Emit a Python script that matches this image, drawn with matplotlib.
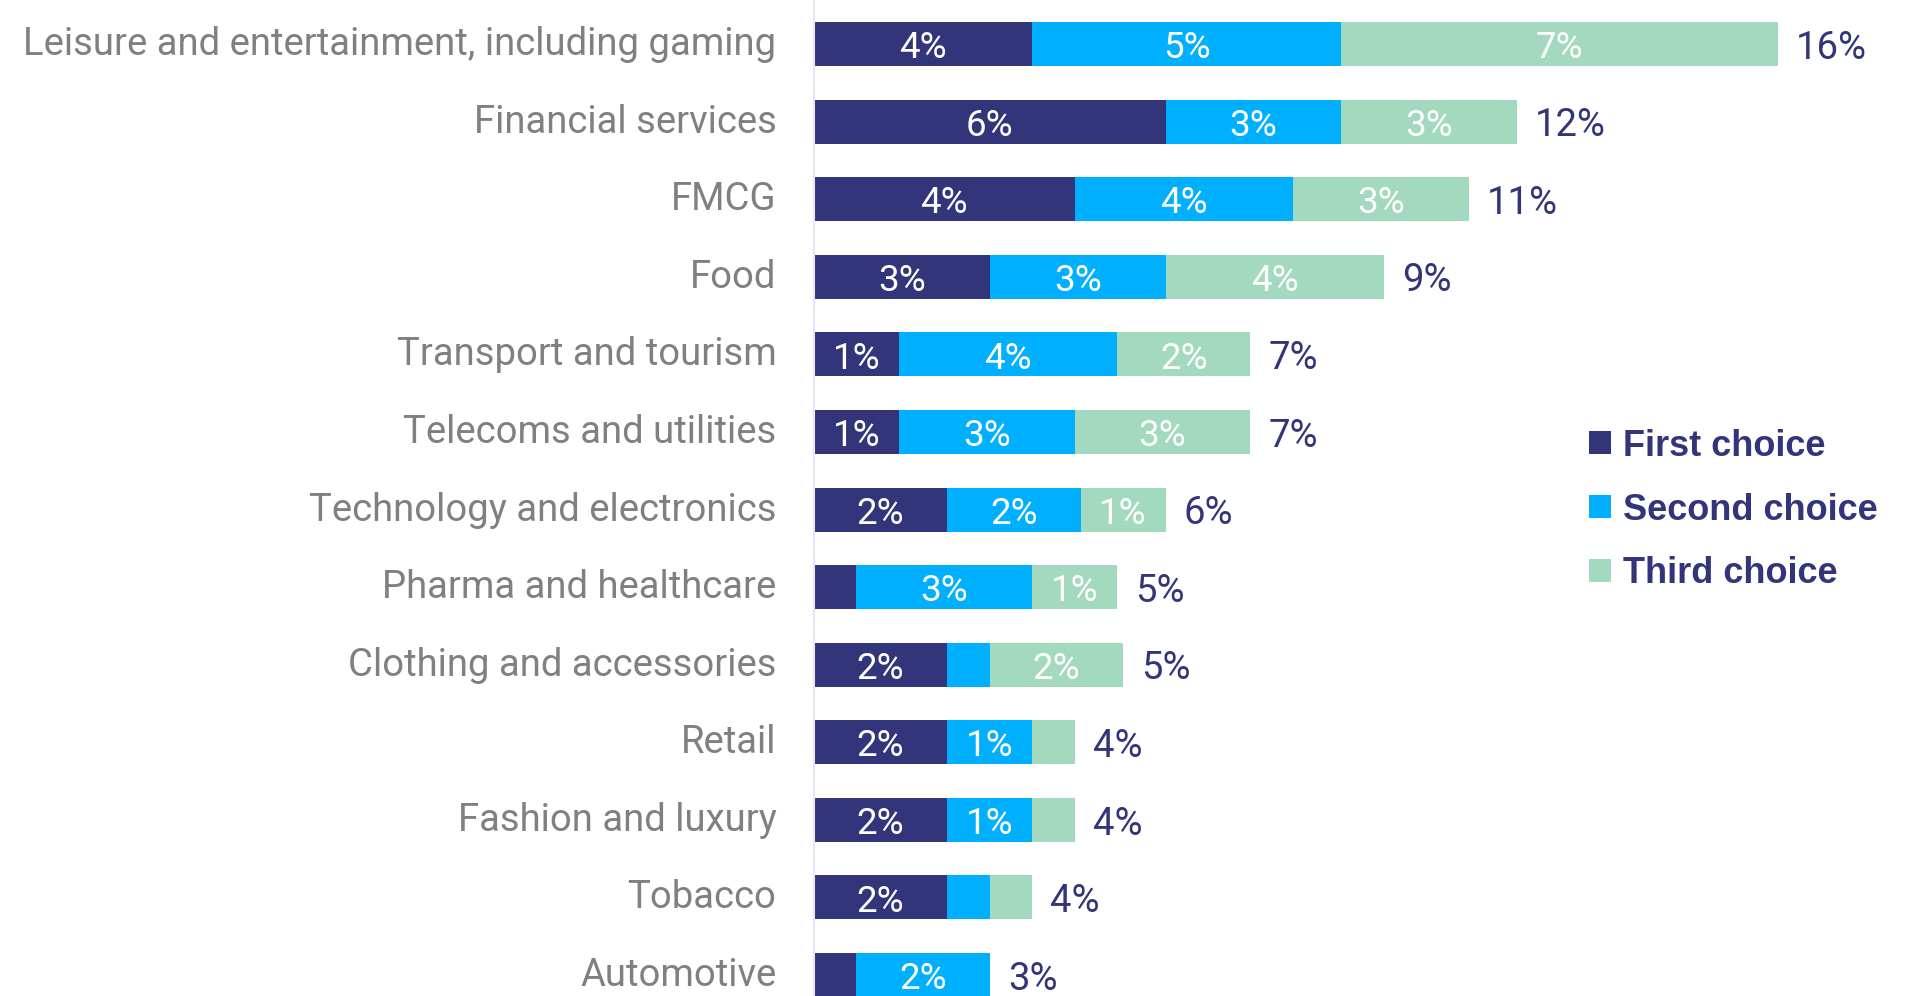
import matplotlib.pyplot as plt
from matplotlib.patches import Patch
from matplotlib.transforms import ScaledTranslation

categories = [
    "Leisure and entertainment, including gaming",
    "Financial services",
    "FMCG",
    "Food",
    "Transport and tourism",
    "Telecoms and utilities",
    "Technology and electronics",
    "Pharma and healthcare",
    "Clothing and accessories",
    "Retail",
    "Fashion and luxury",
    "Tobacco",
    "Automotive",
]
first_choice = [3.6, 5.8, 4.3, 2.9, 1.4, 1.4, 2.2, 0.7, 2.2, 2.2, 2.2, 2.2, 0.7]
second_choice = [5.1, 2.9, 3.6, 2.9, 3.6, 2.9, 2.2, 2.9, 0.7, 1.4, 1.4, 0.7, 2.2]
third_choice = [7.2, 2.9, 2.9, 3.6, 2.2, 2.9, 1.4, 1.4, 2.2, 0.7, 0.7, 0.7, 0.0]
series_names = ["First choice", "Second choice", "Third choice"]

NAVY = "#32357a"
CYAN = "#00b0ff"
MINT = "#a2d9bf"
GREY = "#808080"
colors = [NAVY, CYAN, MINT]

font = ["Roboto", "DejaVu Sans"]

fig = plt.figure(figsize=(19.08, 9.96), dpi=100)
ax = fig.add_axes([814 / 1908, 0, 1076 / 1908, 1])

ypos = list(range(len(categories)))
left = [0.0] * len(categories)
containers = []
for values, color in zip([first_choice, second_choice, third_choice], colors):
    bars = ax.barh(ypos, values, left=left, height=0.567, color=color, linewidth=0)
    labels = [f"{v:.0f}%" if v >= 1 else "" for v in values]
    texts = ax.bar_label(bars, labels=labels, label_type="center", color="white",
                         fontsize=26.5, family=font)
    for t in texts:
        t.xyann = (0, -3)
    left = [a + b for a, b in zip(left, values)]
    containers.append(bars)

totals = [f"{t:.0f}%" for t in left]
texts = ax.bar_label(containers[-1], labels=totals, padding=13, color=NAVY,
                     fontsize=27.5, family=font)
for t in texts:
    t.xyann = (13, -3)

ax.set_xlim(0, 17.75)
ax.set_ylim(12.27, -0.567)
ax.set_yticks(ypos)
ax.set_yticklabels(categories, color=GREY, fontsize=27.5, family=font)
ax.tick_params(axis="y", length=0, pad=27)
# nudge category labels up so the glyphs sit on the bar centre line
lift = ScaledTranslation(0, 2.5 / 72, fig.dpi_scale_trans)
for lbl in ax.get_yticklabels():
    lbl.set_transform(lbl.get_transform() + lift)
ax.set_xticks([])
for side in ["top", "right", "bottom"]:
    ax.spines[side].set_visible(False)
ax.spines["left"].set_color("#e8e6f2")
ax.spines["left"].set_linewidth(1.5)

handles = [Patch(facecolor=c, edgecolor="none") for c in colors]
fig.legend(handles, series_names, loc="center left",
           bbox_to_anchor=(1589 / 1908, 1 - 510 / 996), frameon=False,
           borderaxespad=0, borderpad=0,
           prop={"family": "Liberation Sans", "weight": "bold", "size": 26},
           labelcolor=NAVY, handlelength=0.6, handleheight=0.6,
           handletextpad=0.33, labelspacing=0.8)

fig.savefig("out.png", dpi=100)
